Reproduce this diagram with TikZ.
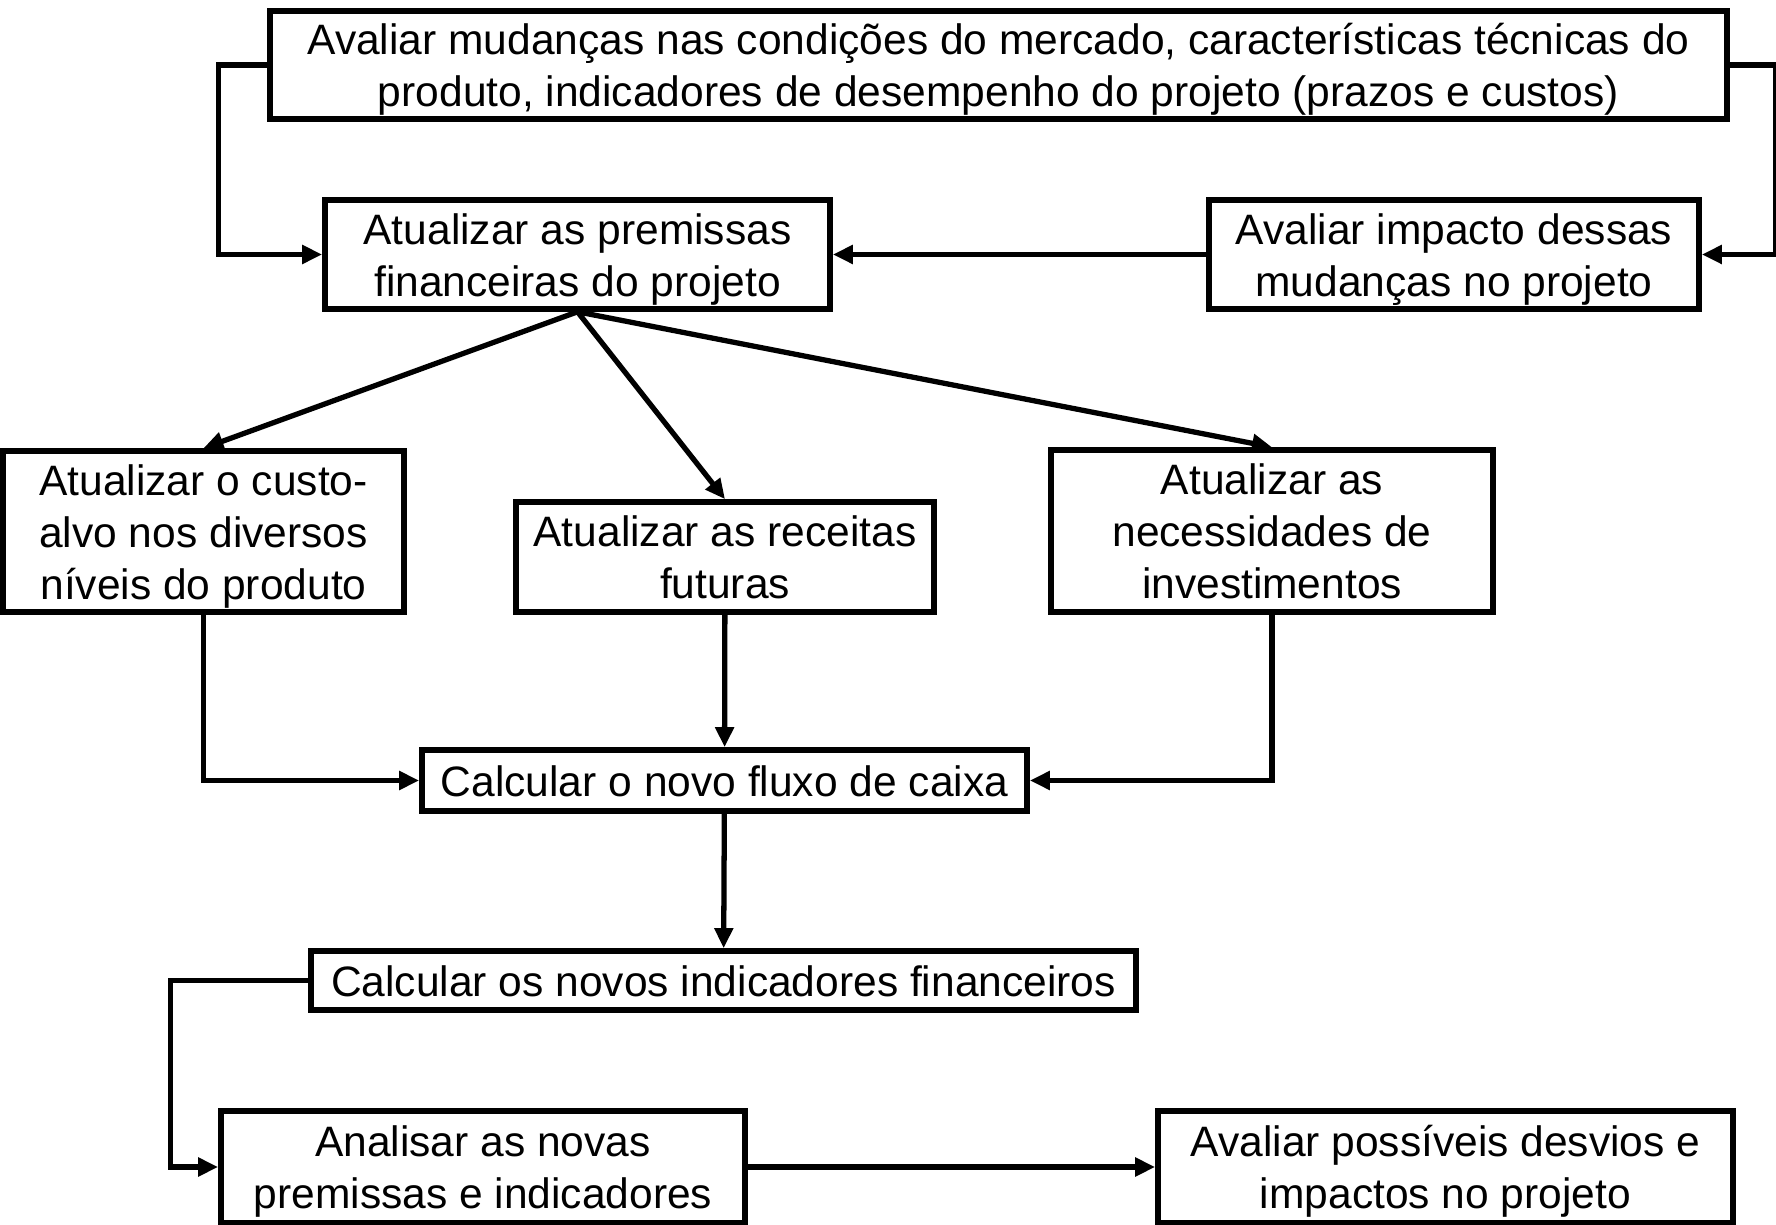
\documentclass[tikz,border=0pt]{standalone}
\usepackage{fontspec}
\setmainfont{Liberation Sans}
\usepackage{tikz}
\usetikzlibrary{arrows.meta}
\tikzset{
    every node/.style={rectangle, draw, line width=1.6pt, align=flush center,
    	inner sep=0pt, font=\fontsize{12.1}{14.8}\selectfont,
    	execute at begin node={\rule{0pt}{11.6pt}},
    	execute at end node={\rule[-2.6pt]{0pt}{2.6pt}}}
}
\tikzset{
	stage/.style={minimum width=#1, text width=#1}
}
\tikzset{
	flow/.style={line width=1.5pt, -{Triangle[length=2mm,width=1.8mm]}}
}

\begin{document}
\begin{tikzpicture}
  \useasboundingbox (0,0) rectangle (17.76,-12.25);
  \node (top) [stage=14.57cm, minimum height=1.08cm] at (9.985cm, -0.65cm)
    {Avaliar mudanças nas condições do mercado, características técnicas do\\
     produto, indicadores de desempenho do projeto (prazos e custos)};
  \node (prem) [stage=5.05cm, minimum height=1.09cm] at (5.775cm, -2.545cm)
    {Atualizar as premissas\\financeiras do projeto};
  \node (imp) [stage=4.9cm, minimum height=1.09cm] at (14.54cm, -2.545cm)
    {Avaliar impacto dessas\\mudanças no projeto};

  \node (custo) [stage=4.01cm, minimum height=1.61cm] at (2.035cm, -5.315cm)
    {Atualizar o custo-\\alvo nos diversos\\níveis do produto};
  \node (rec) [stage=4.18cm, minimum height=1.1cm] at (7.25cm, -5.57cm)
    {Atualizar as receitas\\futuras};
  \node (inv) [stage=4.42cm, minimum height=1.62cm] at (12.72cm, -5.31cm)
    {Atualizar as\\necessidades de\\investimentos};

  \node (fluxo) [stage=6.05cm, minimum height=0.61cm] at (7.245cm, -7.805cm)
    {Calcular o novo fluxo de caixa};
  \node (ind) [stage=8.25cm, minimum height=0.59cm] at (7.235cm, -9.805cm)
    {Calcular os novos indicadores financeiros};

  \node (anal) [stage=5.24cm, minimum height=1.12cm] at (4.83cm, -11.67cm)
    {Analisar as novas\\premissas e indicadores};
  \node (desv) [stage=5.75cm, minimum height=1.12cm] at (14.455cm, -11.67cm)
    {Avaliar possíveis desvios e\\impactos no projeto};

  \draw[flow] (top.west) -- ++(-0.49,0) |- (prem.west);
  \draw[flow] (top.east) -- ++(0.46,0) |- (imp.east);
  \draw[flow] (imp) -- (prem);
  \draw[flow] (prem.south) -- (custo.north);
  \draw[flow] (prem.south) -- (rec.north);
  \draw[flow] (prem.south) -- (inv.north);
  \draw[flow] (custo.south) |- (fluxo.west);
  \draw[flow] (rec) -- (fluxo);
  \draw[flow] (inv.south) |- (fluxo.east);
  \draw[flow] (fluxo) -- (ind);
  \draw[flow] (ind.west) -- ++(-1.38,0) |- (anal.west);
  \draw[flow] (anal) -- (desv);
\end{tikzpicture}
\end{document}
